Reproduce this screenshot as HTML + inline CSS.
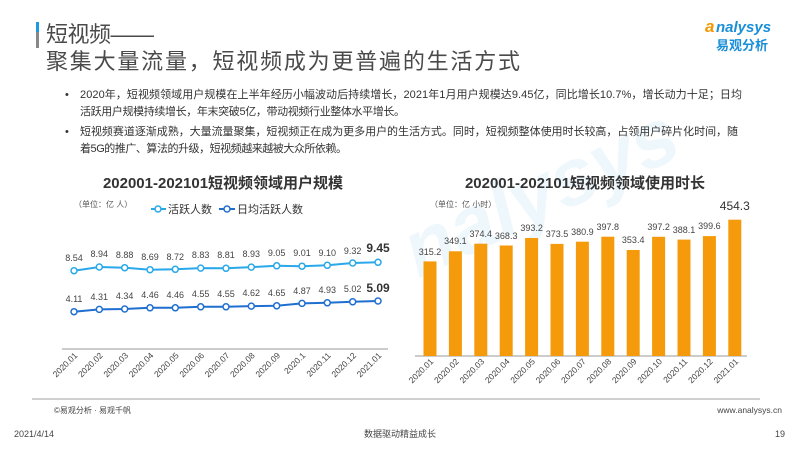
<!DOCTYPE html>
<html><head><meta charset="utf-8"><style>
html,body{margin:0;padding:0;background:#fff;}
svg{display:block;font-family:"Liberation Sans","Noto Sans CJK SC",sans-serif;}
</style></head><body>
<svg width="800" height="450" viewBox="0 0 800 450" xmlns="http://www.w3.org/2000/svg">
<rect width="800" height="450" fill="#fff"/>
<!-- watermark -->
<text x="400" y="265" font-size="80" font-weight="bold" fill="#eef7fc" transform="rotate(-25 440 230)" font-style="italic">nalysys</text>
<!-- header -->
<rect x="36" y="22" width="3" height="10" fill="#1a9be0"/>
<rect x="36" y="32" width="3" height="16" fill="#888"/>
<text x="46" y="42" font-size="22" fill="#4a4a4a" textLength="108">短视频——</text>
<text x="46" y="69" font-size="22" fill="#4a4a4a" textLength="474">聚集大量流量，短视频成为更普遍的生活方式</text>
<!-- logo -->
<text x="705" y="32" font-size="17" font-style="italic" font-weight="bold" fill="#f39800">a</text>
<text x="716" y="32" font-size="15" font-style="italic" font-weight="bold" fill="#1a8fd8">nalysys</text>
<text x="716" y="50" font-size="13" font-weight="bold" fill="#1a8fd8">易观分析</text>
<!-- bullets -->
<g font-size="11" fill="#333">
<text x="65" y="98">•</text>
<text x="80" y="98" textLength="662">2020年，短视频领域用户规模在上半年经历小幅波动后持续增长，2021年1月用户规模达9.45亿，同比增长10.7%，增长动力十足；日均</text>
<text x="80" y="115" textLength="325">活跃用户规模持续增长，年末突破5亿，带动视频行业整体水平增长。</text>
<text x="65" y="135">•</text>
<text x="80" y="135" textLength="658">短视频赛道逐渐成熟，大量流量聚集，短视频正在成为更多用户的生活方式。同时，短视频整体使用时长较高，占领用户碎片化时间，随</text>
<text x="80" y="152" textLength="267">着5G的推广、算法的升级，短视频越来越被大众所依赖。</text>
</g>
<!-- chart titles -->
<text x="223" y="188" font-size="15" font-weight="bold" fill="#333" text-anchor="middle">202001-202101短视频领域用户规模</text>
<text x="585" y="188" font-size="15" font-weight="bold" fill="#333" text-anchor="middle">202001-202101短视频领域使用时长</text>
<!-- left chart -->
<text x="74" y="207" font-size="8" fill="#555">（单位：亿 人）</text>
<line x1="151" y1="209" x2="166" y2="209" stroke="#29a8ea" stroke-width="2"/><circle cx="158" cy="209" r="3" fill="#fff" stroke="#29a8ea" stroke-width="1.5"/>
<text x="168" y="213" font-size="11" fill="#333">活跃人数</text>
<line x1="219" y1="209" x2="235" y2="209" stroke="#1f6fd0" stroke-width="2"/><circle cx="227" cy="209" r="3" fill="#fff" stroke="#1f6fd0" stroke-width="1.5"/>
<text x="237" y="213" font-size="11" fill="#333">日均活跃人数</text>
<line x1="62" y1="349" x2="388" y2="349" stroke="#999" stroke-width="1"/>
<polyline fill="none" stroke="#29a8ea" stroke-width="2" points="74,270.7 99.3,267 124.7,267.7 150,269.7 175.3,269.3 200.7,268.1 226,268.3 251.3,267.1 276.7,265.8 302,266.2 327.3,265.3 352.7,263 378,262.3"/>
<polyline fill="none" stroke="#1f6fd0" stroke-width="2" points="74,311.7 99.3,309.4 124.7,309 150,307.8 175.3,307.8 200.7,306.8 226,306.8 251.3,306.1 276.7,305.8 302,303.4 327.3,302.8 352.7,301.8 378,301"/>
<g fill="#fff" stroke="#29a8ea" stroke-width="1.5">
<circle cx="74" cy="270.7" r="3"/><circle cx="99.3" cy="267" r="3"/><circle cx="124.7" cy="267.7" r="3"/><circle cx="150" cy="269.7" r="3"/><circle cx="175.3" cy="269.3" r="3"/><circle cx="200.7" cy="268.1" r="3"/><circle cx="226" cy="268.3" r="3"/><circle cx="251.3" cy="267.1" r="3"/><circle cx="276.7" cy="265.8" r="3"/><circle cx="302" cy="266.2" r="3"/><circle cx="327.3" cy="265.3" r="3"/><circle cx="352.7" cy="263" r="3"/><circle cx="378" cy="262.3" r="3"/>
</g>
<g fill="#fff" stroke="#1f6fd0" stroke-width="1.5">
<circle cx="74" cy="311.7" r="3"/><circle cx="99.3" cy="309.4" r="3"/><circle cx="124.7" cy="309" r="3"/><circle cx="150" cy="307.8" r="3"/><circle cx="175.3" cy="307.8" r="3"/><circle cx="200.7" cy="306.8" r="3"/><circle cx="226" cy="306.8" r="3"/><circle cx="251.3" cy="306.1" r="3"/><circle cx="276.7" cy="305.8" r="3"/><circle cx="302" cy="303.4" r="3"/><circle cx="327.3" cy="302.8" r="3"/><circle cx="352.7" cy="301.8" r="3"/><circle cx="378" cy="301" r="3"/>
</g>
<g font-size="9" fill="#444" text-anchor="middle">
<text x="74" y="261">8.54</text><text x="99.3" y="257">8.94</text><text x="124.7" y="258">8.88</text><text x="150" y="260">8.69</text><text x="175.3" y="260">8.72</text><text x="200.7" y="258">8.83</text><text x="226" y="258">8.81</text><text x="251.3" y="257">8.93</text><text x="276.7" y="256">9.05</text><text x="302" y="256">9.01</text><text x="327.3" y="256">9.10</text><text x="352.7" y="254">9.32</text>
<text x="74" y="302">4.11</text><text x="99.3" y="300">4.31</text><text x="124.7" y="299">4.34</text><text x="150" y="298">4.46</text><text x="175.3" y="298">4.46</text><text x="200.7" y="297">4.55</text><text x="226" y="297">4.55</text><text x="251.3" y="296">4.62</text><text x="276.7" y="296">4.65</text><text x="302" y="294">4.87</text><text x="327.3" y="293">4.93</text><text x="352.7" y="292">5.02</text>
</g>
<text x="378" y="252" font-size="12" font-weight="bold" fill="#333" text-anchor="middle">9.45</text>
<text x="378" y="292" font-size="12" font-weight="bold" fill="#333" text-anchor="middle">5.09</text>
<g font-size="8.5" fill="#444" text-anchor="end">
<text transform="translate(78,356) rotate(-45)">2020.01</text><text transform="translate(103.3,356) rotate(-45)">2020.02</text><text transform="translate(128.7,356) rotate(-45)">2020.03</text><text transform="translate(154,356) rotate(-45)">2020.04</text><text transform="translate(179.3,356) rotate(-45)">2020.05</text><text transform="translate(204.7,356) rotate(-45)">2020.06</text><text transform="translate(230,356) rotate(-45)">2020.07</text><text transform="translate(255.3,356) rotate(-45)">2020.08</text><text transform="translate(280.7,356) rotate(-45)">2020.09</text><text transform="translate(306,356) rotate(-45)">2020.1</text><text transform="translate(331.3,356) rotate(-45)">2020.11</text><text transform="translate(356.7,356) rotate(-45)">2020.12</text><text transform="translate(382,356) rotate(-45)">2021.01</text>
</g>
<!-- right chart -->
<text x="430" y="207" font-size="8" fill="#555">（单位：亿 小时）</text>
<line x1="415" y1="356" x2="747" y2="356" stroke="#999" stroke-width="1"/>
<g fill="#f59a0a">
<rect x="423.5" y="261.4" width="13" height="94.6"/><rect x="448.9" y="251.3" width="13" height="104.7"/><rect x="474.3" y="243.7" width="13" height="112.3"/><rect x="499.7" y="245.5" width="13" height="110.5"/><rect x="525.1" y="238" width="13" height="118"/><rect x="550.5" y="243.9" width="13" height="112.1"/><rect x="575.9" y="241.7" width="13" height="114.3"/><rect x="601.3" y="236.7" width="13" height="119.3"/><rect x="626.7" y="250" width="13" height="106"/><rect x="652.1" y="236.8" width="13" height="119.2"/><rect x="677.5" y="239.6" width="13" height="116.4"/><rect x="702.9" y="236.1" width="13" height="119.9"/><rect x="728.3" y="219.7" width="13" height="136.3"/>
</g>
<g font-size="9" fill="#444" text-anchor="middle">
<text x="430" y="255">315.2</text><text x="455.4" y="244">349.1</text><text x="480.8" y="237">374.4</text><text x="506.2" y="239">368.3</text><text x="531.6" y="231">393.2</text><text x="557" y="237">373.5</text><text x="582.4" y="235">380.9</text><text x="607.8" y="230">397.8</text><text x="633.2" y="243">353.4</text><text x="658.6" y="230">397.2</text><text x="684" y="233">388.1</text><text x="709.4" y="229">399.6</text>
</g>
<text x="734.8" y="210" font-size="12" fill="#333" text-anchor="middle">454.3</text>
<g font-size="8.5" fill="#444" text-anchor="end">
<text transform="translate(434,362) rotate(-45)">2020.01</text><text transform="translate(459.4,362) rotate(-45)">2020.02</text><text transform="translate(484.8,362) rotate(-45)">2020.03</text><text transform="translate(510.2,362) rotate(-45)">2020.04</text><text transform="translate(535.6,362) rotate(-45)">2020.05</text><text transform="translate(561,362) rotate(-45)">2020.06</text><text transform="translate(586.4,362) rotate(-45)">2020.07</text><text transform="translate(611.8,362) rotate(-45)">2020.08</text><text transform="translate(637.2,362) rotate(-45)">2020.09</text><text transform="translate(662.6,362) rotate(-45)">2020.10</text><text transform="translate(688,362) rotate(-45)">2020.11</text><text transform="translate(713.4,362) rotate(-45)">2020.12</text><text transform="translate(738.8,362) rotate(-45)">2021.01</text>
</g>
<!-- footer -->
<line x1="32" y1="399" x2="760" y2="399" stroke="#d0d0d0" stroke-width="2"/>
<text x="54" y="413" font-size="8" fill="#444">©易观分析 · 易观千帆</text>
<text x="782" y="413" font-size="8.5" fill="#444" text-anchor="end">www.analysys.cn</text>
<text x="14" y="437" font-size="9" fill="#444">2021/4/14</text>
<text x="400" y="437" font-size="9" fill="#444" text-anchor="middle">数据驱动精益成长</text>
<text x="785" y="437" font-size="9" fill="#444" text-anchor="end">19</text>
</svg>
</body></html>
